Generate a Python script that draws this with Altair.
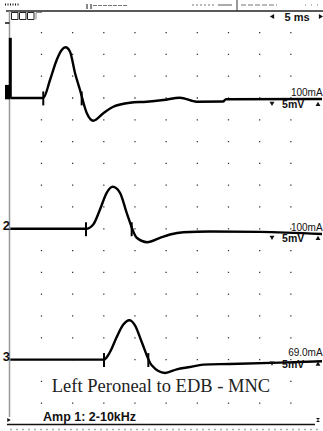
import altair as alt
import pandas as pd

SANS = "Liberation Sans"
SERIF = "Liberation Serif"

# Sweep 5 ms / division, sensitivity 5 mV / division.
# Each trace: time after stimulus (ms) and amplitude from its own baseline (mV).
t_ankle = [0.0, 5.29, 6.37, 7.44, 8.25, 8.85, 9.58, 10.38, 11.18, 12.26, 13.31,
           14.92, 16.52, 19.20, 21.88, 24.54, 27.22, 29.90, 34.12, 34.60, 50.0]
a_ankle = [0.0, 0.0, 4.13, 8.72, 11.01, 11.63, 10.62, 5.74, 1.84, -3.44, -5.21,
           -3.51, -2.00, -1.08, -0.85, -0.46, 0.07, -0.85, -0.80, -0.28, -0.23]

t_fib = [0.0, 12.14, 13.31, 14.39, 15.46, 16.43, 17.60, 18.67, 20.28, 21.98,
         24.01, 25.62, 27.75, 32.03, 40.05, 50.0]
a_fib = [0.0, 0.0, 0.99, 4.43, 8.26, 9.63, 8.26, 3.67, -2.06, -3.07,
         -2.06, -1.31, -0.78, -0.62, -0.70, -1.20]

t_knee = [0.0, 15.03, 15.99, 17.07, 18.13, 19.09, 20.0, 21.08, 22.68, 24.82,
          26.69, 28.83, 30.96, 35.24, 43.26, 50.0]
a_knee = [0.0, 0.0, 1.74, 5.18, 8.03, 9.02, 7.87, 4.04, -1.31, -3.07,
          -2.23, -1.70, -1.15, -1.01, -0.69, -0.39]

# screen baseline of each trace (mV, 4 / 10 / 16 divisions below the top)
trace_ids = ["1", "2", "3"]
baselines = [-20, -50, -80]
currents = ["100mA", "100mA", "69.0mA"]
sensitivity = ["5mV", "5mV", "5mV"]

# onset / peak cursors (ms)
onset_ms = [5.29, 12.14, 15.03]
cursor2_ms = [11.45, 19.47, 22.14]

# screen graticule dots
grid_ms = [5, 10, 15, 20, 25, 30, 35, 40, 45]
grid_mv = [-5 * j for j in range(1, 19)]

title = "Left Peroneal to EDB - MNC"
footer = "Amp 1: 2-10kHz"
sweep_label = "5 ms"

# ---------------------------------------------------------------- tables
rows = []
for tid, base, ts, amps in zip(trace_ids, baselines,
                               [t_ankle, t_fib, t_knee], [a_ankle, a_fib, a_knee]):
    for i, (t, a) in enumerate(zip(ts, amps)):
        rows.append({"trace": tid, "seq": i, "t": t, "v": base + a})
traces = pd.DataFrame(rows)

cur = []
for tid, base, c1, c2 in zip(trace_ids, baselines, onset_ms, cursor2_ms):
    for c in (c1, c2):
        cur.append({"trace": tid, "t": c, "top": base + 1.5, "bot": base - 1.7})
cursors = pd.DataFrame(cur)

grid = pd.DataFrame([{"t": t, "v": v} for t in grid_ms for v in grid_mv])

labels = pd.DataFrame({"trace": trace_ids, "base": baselines,
                       "cur": currents, "sens": sensitivity,
                       "t_end": [50.1] * 3, "t_sens": [43.6] * 3,
                       "t_dn": [41.98] * 3, "t_up": [49.36] * 3,
                       "t_lab": [-0.05] * 3})

X = alt.Scale(domain=[-1.652, 50.16], nice=False, zero=False)
Y = alt.Scale(domain=[-96.38, 2.477], nice=False, zero=False)
one = pd.DataFrame({"k": [0]})


def seg(x1, y1, x2, y2, color="#111", width=1.0, dash=None):
    kw = {"color": color, "strokeWidth": width}
    if dash:
        kw["strokeDash"] = dash
    return alt.Chart(one).mark_rule(**kw).encode(
        x=alt.value(x1), y=alt.value(y1), x2=alt.value(x2), y2=alt.value(y2))


def note(text, x, y, size, align="left", font=SANS, weight="normal", color="#111"):
    return alt.Chart(pd.DataFrame({"s": [text]})).mark_text(
        fontSize=size, font=font, fontWeight=weight, align=align,
        baseline="alphabetic", color=color).encode(
        x=alt.value(x), y=alt.value(y), text="s:N")


def box(x1, y1, x2, y2, fill=None, stroke=None):
    kw = {"fill": fill if fill else "transparent"}
    if stroke:
        kw.update(stroke=stroke, strokeWidth=1)
    return alt.Chart(one).mark_rect(**kw).encode(
        x=alt.value(x1), y=alt.value(y1), x2=alt.value(x2), y2=alt.value(y2))


def glyph(shape, x, y, size):
    return alt.Chart(one).mark_point(shape=shape, filled=True, size=size,
                                     color="#111", opacity=1).encode(
        x=alt.value(x), y=alt.value(y))


# ---------------------------------------------------------------- layers
dots = alt.Chart(grid).mark_square(size=1.6, color="#333", opacity=1).encode(
    x=alt.X("t:Q", scale=X, axis=None), y=alt.Y("v:Q", scale=Y, axis=None))

title_bg = box(46, 375, 277, 397, fill="white")

lines = alt.Chart(traces).mark_line(
    color="black", strokeWidth=2.4, interpolate="monotone").encode(
    x=alt.X("t:Q", scale=X, axis=None), y=alt.Y("v:Q", scale=Y, axis=None),
    detail="trace:N", order="seq:Q")

cursor_ticks = alt.Chart(cursors).mark_rule(color="black", strokeWidth=2).encode(
    x=alt.X("t:Q", scale=X), y=alt.Y("top:Q", scale=Y), y2="bot:Q")

# stimulus artefact on the first trace
stim = alt.Chart(pd.DataFrame({"t": [0.0], "v0": [-20.0], "v1": [-6.2]})).mark_rule(
    color="black", strokeWidth=3).encode(
    x=alt.X("t:Q", scale=X), y=alt.Y("v0:Q", scale=Y), y2="v1:Q")
active = alt.Chart(pd.DataFrame({"t0": [-0.85], "t1": [-0.05],
                                 "v0": [-17.0], "v1": [-20.3]})).mark_rect(
    color="black").encode(
    x=alt.X("t0:Q", scale=X), x2="t1:Q", y=alt.Y("v0:Q", scale=Y), y2="v1:Q")

trace_num = alt.Chart(labels[labels.trace != "1"]).mark_text(
    font=SANS, fontSize=13, fontWeight="bold", align="right",
    baseline="alphabetic", dy=1, color="#111").encode(
    x=alt.X("t_lab:Q", scale=X), y=alt.Y("base:Q", scale=Y), text="trace:N")

# stimulus-current and sensitivity readouts at the right end of each trace;
# the readout block sits at a slightly different height on each channel
readouts = []
for k, (dy_cur, dy_sens) in enumerate([(-1.5, 10), (2, 13), (-3.5, 8)]):
    row = labels.iloc[[k]]
    readouts += [
        alt.Chart(row).mark_text(
            font=SANS, fontSize=10, align="right", baseline="alphabetic",
            dy=dy_cur, color="#111").encode(
            x=alt.X("t_end:Q", scale=X), y=alt.Y("base:Q", scale=Y), text="cur:N"),
        alt.Chart(row).mark_text(
            font=SANS, fontSize=10.5, fontWeight="bold", align="left",
            baseline="alphabetic", dy=dy_sens, color="#111").encode(
            x=alt.X("t_sens:Q", scale=X), y=alt.Y("base:Q", scale=Y), text="sens:N"),
        alt.Chart(row).mark_point(
            shape="triangle-down", filled=True, size=24, color="#111", opacity=1,
            yOffset=dy_sens - 4).encode(
            x=alt.X("t_dn:Q", scale=X), y=alt.Y("base:Q", scale=Y)),
        alt.Chart(row).mark_point(
            shape="triangle-up", filled=True, size=24, color="#111", opacity=1,
            yOffset=dy_sens - 4).encode(
            x=alt.X("t_up:Q", scale=X), y=alt.Y("base:Q", scale=Y)),
    ]

frame = [
    seg(6, 11, 323, 11, color="#222", width=1.3),       # top divider
    seg(9.5, 11, 9.5, 417, color="#999", width=1.5),    # left edge of screen
    seg(5, 23, 9.5, 23, color="#111", width=1.5),
    seg(7, 424.5, 315, 424.5, color="#111", width=1.3),  # bottom divider
    seg(10, 429.5, 320, 429.5, color="#aaa", width=1.5, dash=[2, 4]),
    # lower edge of the header row
    seg(5, 4.5, 20, 4.5, width=2, dash=[1, 1.5]),
    seg(87, 4, 87, 9, width=1), seg(91, 4, 91, 9, width=1),
    seg(93, 5.5, 127, 5.5, color="#777", width=1, dash=[4, 1]),
    seg(192, 5, 215, 5, color="#777", width=1, dash=[2, 2]),
    seg(218, 5, 232, 5, color="#555", width=1),
    seg(237, 0, 237, 11, color="#333", width=1),
    seg(241, 5, 277, 5, color="#777", width=1, dash=[5, 2]),
    seg(305, 5, 321, 5, color="#777", width=1, dash=[1, 5]),
]

icons = [
    box(11.5, 12.5, 18, 19.5, stroke="#222"),
    box(19.5, 12.5, 26, 19.5, stroke="#222"),
    box(27.5, 12.5, 34, 19.5, stroke="#222"),
    seg(36, 12.5, 42, 12.5, color="#888", width=1),
    seg(36, 12.5, 36, 19.5, color="#888", width=1),
    glyph("triangle-left", 272, 16.5, 24),
    glyph("triangle-right", 321, 16.5, 24),
    glyph("triangle-right", 9, 420, 16),
    glyph("M-1,-1L1,-1L-1,1L1,1Z", 318, 420, 16),
]

texts = [
    note(sweep_label, 297, 20.5, 11, align="center", weight="bold"),
    note(title, 161, 392, 18.5, align="center", font=SERIF, color="#222"),
    note(footer, 43, 421, 12.5, weight="bold"),
]

chart = alt.layer(
    dots, title_bg, *frame, lines, cursor_ticks, stim, active,
    trace_num, *readouts, *icons, *texts
).properties(
    width=323, height=431, padding=0, autosize="none", background="white"
).configure_view(strokeWidth=0)

chart.save("out.html", embed_options={"renderer": "svg", "actions": False})
